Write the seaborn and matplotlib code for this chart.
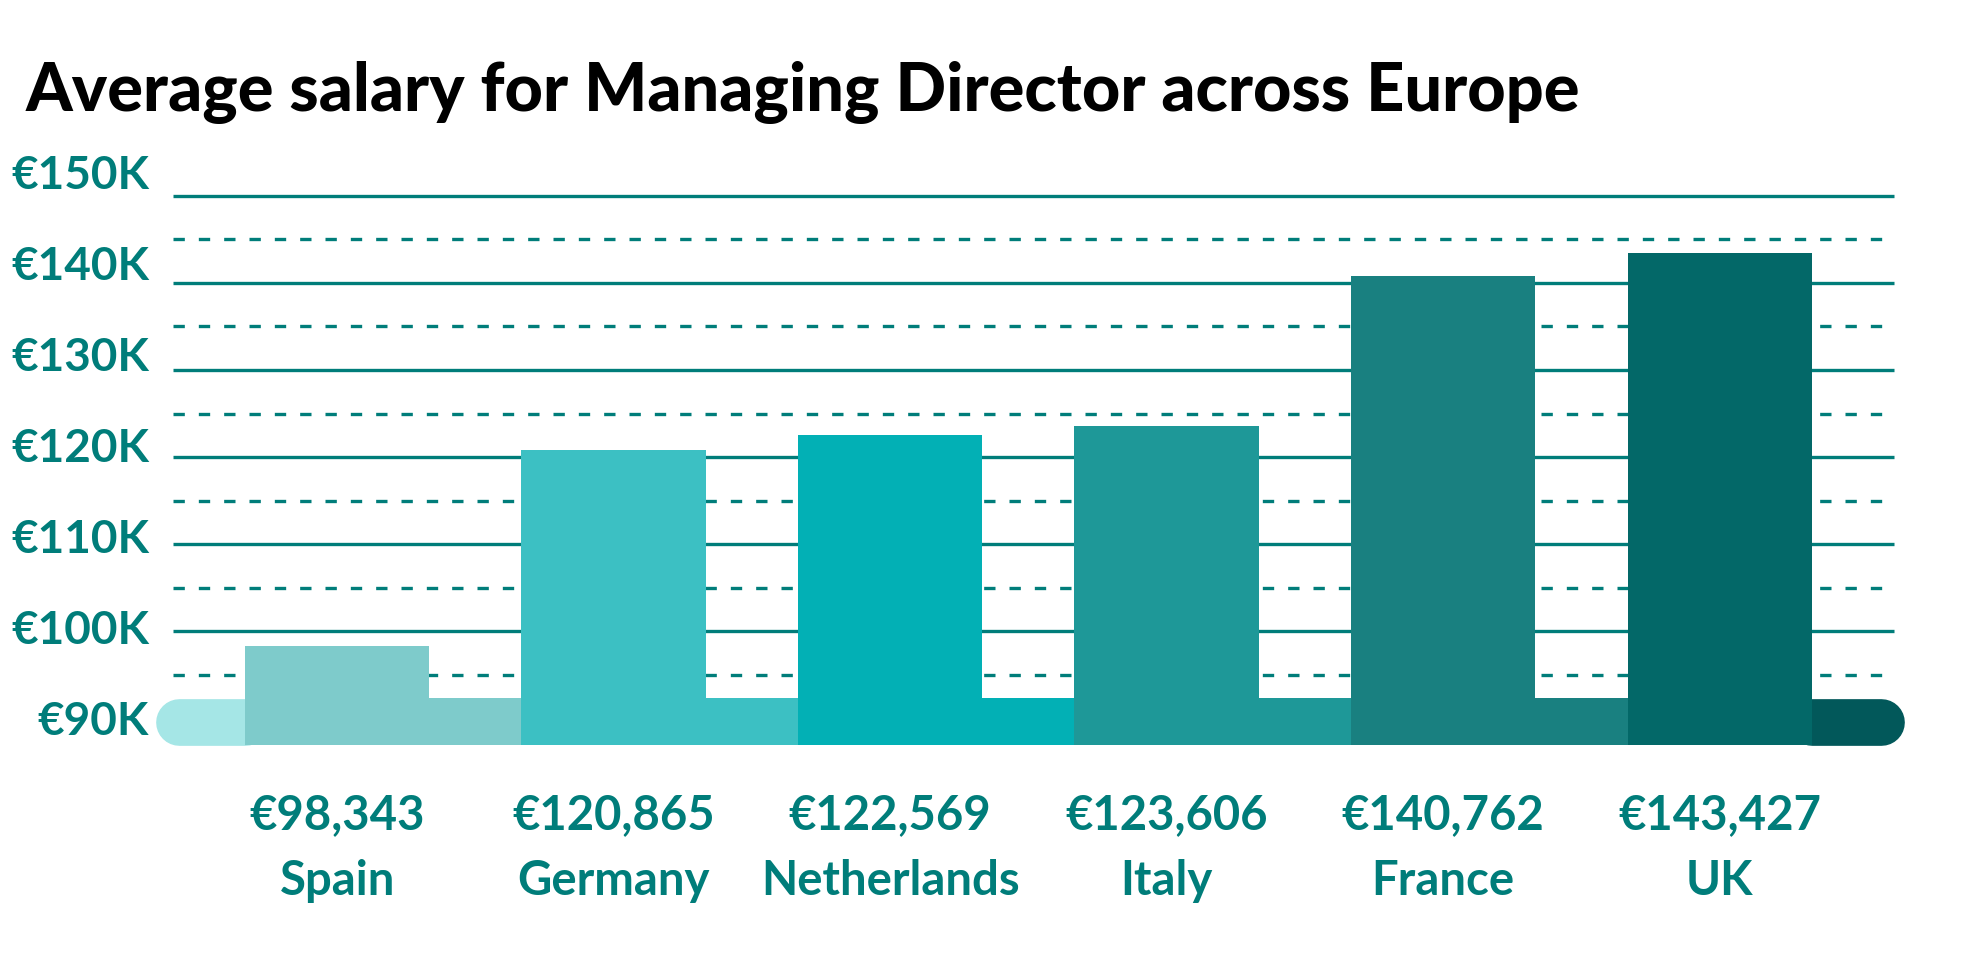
import matplotlib
matplotlib.use("Agg")
import matplotlib.pyplot as plt
import seaborn as sns
import pandas as pd

# chart data
countries = ["Spain", "Germany", "Netherlands", "Italy", "France", "UK"]
salaries = [98343, 120865, 122569, 123606, 140762, 143427]
value_labels = ["€98,343", "€120,865", "€122,569", "€123,606", "€140,762", "€143,427"]
tick_values = [90, 100, 110, 120, 130, 140, 150]
tick_labels = ["€90K", "€100K", "€110K", "€120K", "€130K", "€140K", "€150K"]
title = "Average salary for Managing Director across Europe"

# styling
bar_colors = ["#7ecbcb", "#3cc0c3", "#02b0b5", "#1e9898", "#198080", "#036868"]
band_left_color = "#a5e6e6"
band_right_color = "#02585a"
teal = "#007d7a"

sns.set_theme(style="white")
plt.rcParams["font.family"] = ["Lato", "DejaVu Sans"]

df = pd.DataFrame({"country": countries, "salary_k": [s / 1000 for s in salaries]})

fig = plt.figure(figsize=(19.8, 9.61), dpi=100)
ax = fig.add_axes([0, 0, 1, 1])

bar_width = 0.667
band_lo, band_hi = 86.96, 92.32

sns.barplot(data=df, x="country", y="salary_k", hue="country", palette=bar_colors,
            width=bar_width, saturation=1, legend=False, zorder=3, ax=ax)

# bars start at the bottom of the baseline band
for container, val in zip(ax.containers, df["salary_k"]):
    for p in container:
        p.set_y(band_lo)
        p.set_height(val - band_lo)
        p.set_linewidth(0)

xlim = (-1.219, 5.941)
ylim = (62.17, 172.46)
ax.set_xlim(*xlim)
ax.set_ylim(*ylim)
ax.axis("off")

# grid lines: solid at ticks, dashed half-way
grid_x0, grid_x1 = -0.594, 5.630
for t in tick_values[1:]:
    ax.plot([grid_x0, grid_x1], [t, t], color=teal, lw=2.4, zorder=1, solid_capstyle="butt")
for t in tick_values[:-1]:
    ax.plot([grid_x0, grid_x1], [t + 5, t + 5], color=teal, lw=2.4, zorder=1,
            dashes=(3.4, 4.2), dash_capstyle="butt")

# baseline band, one segment per bar colour
n = len(countries)
for i, c in enumerate(bar_colors):
    x0 = i - bar_width / 2
    x1 = (i + 1 - bar_width / 2) if i < n - 1 else (i + bar_width / 2)
    ax.fill_between([x0, x1], band_lo, band_hi, color=c, lw=0, zorder=2)

band_px = (band_hi - band_lo) * fig.get_figheight() * fig.dpi / (ylim[1] - ylim[0])
band_pt = band_px * 72 / fig.dpi
r_x = (band_px / 2) * (xlim[1] - xlim[0]) / (fig.get_figwidth() * fig.dpi)
band_mid = (band_lo + band_hi) / 2
left_end, right_end = -0.6575, 5.667
ax.plot([left_end + r_x, -bar_width / 2], [band_mid, band_mid], color=band_left_color,
        lw=band_pt, solid_capstyle="round", zorder=2)
ax.plot([n - 1 + bar_width / 2, right_end - r_x], [band_mid, band_mid], color=band_right_color,
        lw=band_pt, solid_capstyle="round", zorder=2)

# y labels (drift slightly upward from the grid lines, as in the original)
for t, lab in zip(tick_values, tick_labels):
    ax.text(-0.680, t + 0.045 * (t - 90) - 0.4, lab, ha="right", va="center",
            fontsize=33, fontweight="bold", color=teal)

# value and country labels under the bars
for i, (vl, c) in enumerate(zip(value_labels, countries)):
    ax.text(i, 78.9, vl, ha="center", va="center", fontsize=34, fontweight="bold", color=teal)
    ax.text(i, 71.3, c, ha="center", va="center", fontsize=34, fontweight="bold", color=teal)

fig.text(0.0128, 0.884, title, ha="left", va="baseline", fontsize=48,
         fontweight="black", color="#000000")

fig.savefig("out.png", dpi=100)
